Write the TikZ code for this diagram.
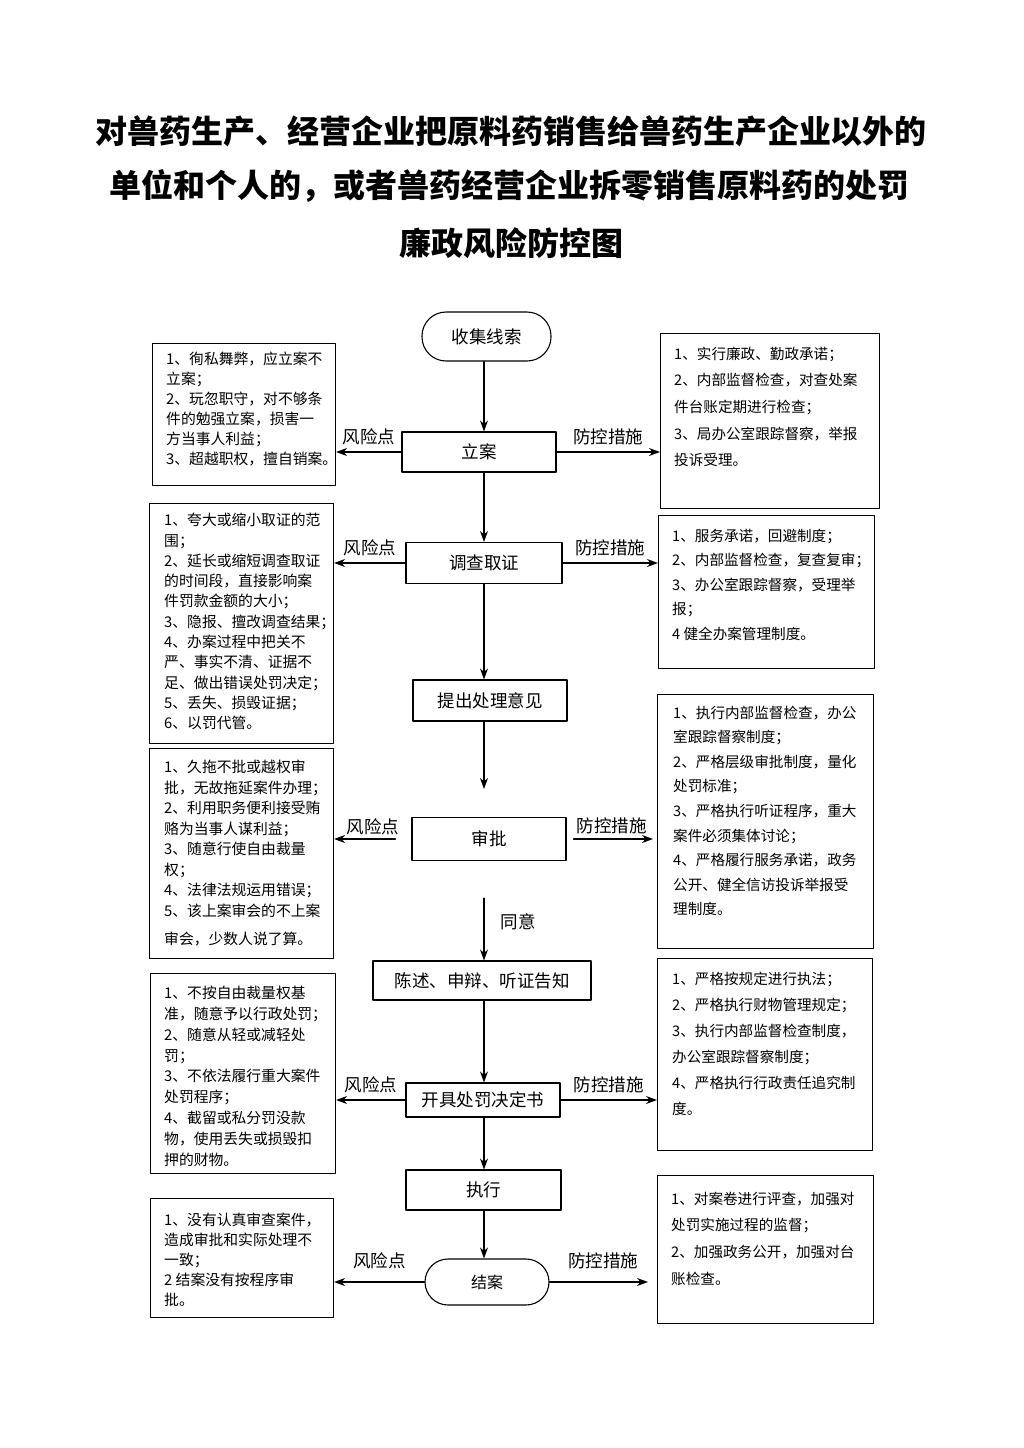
\documentclass[tikz,border=0pt]{standalone}
\usepackage{fontspec}
\setmainfont{Noto Sans CJK SC}
\usetikzlibrary{arrows.meta}
\begin{document}
\begin{tikzpicture}[x=1pt, y=-1pt, line join=round, line cap=round, >={Stealth[length=11pt,width=8pt]}]
	\tikzset{
		box/.style={draw, line width=1.1pt, inner sep=0pt},
		flow/.style={box, font=\fontsize{17.5}{20}\selectfont},
		oval/.style={flow, rounded corners=#1},
		side/.style={box, anchor=north west},
		ltxt/.style={anchor=north west, inner sep=0pt, align=left, font=\fontsize{14.8}{#1}\selectfont},
		rtxt/.style={anchor=north west, inner sep=0pt, align=left, font=\fontsize{14.6}{#1}\selectfont},
		tag/.style={font=\fontsize{17.5}{20}\selectfont, inner sep=0pt},
		title/.style={font=\bfseries\fontsize{32}{36}\selectfont},
		arr/.style={->, line width=1.1pt}
	}
	\useasboundingbox (0,0) rectangle (1024,1448);
	\coordinate (axis) at (484,0);
	% title
	\path (511,131) node[title] (t1) {对兽药生产、经营企业把原料药销售给兽药生产企业以外的}
	(509,186) node[title] (t2) {单位和个人的，或者兽药经营企业拆零销售原料药的处罚}
	(511,243) node[title] (t3) {廉政风险防控图};
	% main column
	\node[oval=24pt, minimum width=129, minimum height=49] (start) at (486.5,336.5) {收集线索};
	\node[flow, minimum width=154, minimum height=40] (lian) at (479,452) {立案};
	\node[flow, minimum width=156, minimum height=41] (diaocha) at (484,563) {调查取证};
	\node[flow, minimum width=154, minimum height=41] (tichu) at (490,700.5) {提出处理意见};
	\node[flow, minimum width=154, minimum height=43] (shenpi) at (489,839) {审批};
	\node[flow, minimum width=218, minimum height=39] (chenshu) at (482,980.5) {陈述、申辩、听证告知};
	\node[flow, minimum width=154, minimum height=34] (kaiju) at (483,1100) {开具处罚决定书};
	\node[flow, minimum width=155, minimum height=40] (zhixing) at (483.5,1190) {执行};
	\node[oval=23pt, minimum width=124, minimum height=46, font=\fontsize{16}{18}\selectfont] (jiean) at (487,1282) {结案};
	% risk boxes (left)
	\node[side, minimum width=183, minimum height=142] (L1) at (152,343) {};
	\node[ltxt=20] (L1t) at ([shift={(14,9)}]L1.north west) {1、徇私舞弊，应立案不\\立案；\\2、玩忽职守，对不够条\\件的勉强立案，损害一\\方当事人利益；\\3、超越职权，擅自销案。};
	\node[side, minimum width=184, minimum height=240] (L2) at (149,503) {};
	\node[ltxt=20.3] (L2t) at ([shift={(15,10)}]L2.north west) {1、夸大或缩小取证的范\\围；\\2、延长或缩短调查取证\\的时间段，直接影响案\\件罚款金额的大小；\\3、隐报、擅改调查结果；\\4、办案过程中把关不\\严、事实不清、证据不\\足、做出错误处罚决定；\\5、丢失、损毁证据；\\6、以罚代管。};
	\node[side, minimum width=184, minimum height=210] (L3) at (149,748) {};
	\node[ltxt=20.5] (L3t) at ([shift={(15,12)}]L3.north west) {1、久拖不批或越权审\\批，无故拖延案件办理；\\2、利用职务便利接受贿\\赂为当事人谋利益；\\3、随意行使自由裁量\\权；\\4、法律法规运用错误；\\5、该上案审会的不上案\\[8pt]审会，少数人说了算。};
	\node[side, minimum width=185, minimum height=200] (L4) at (150,973) {};
	\node[ltxt=20.8] (L4t) at ([shift={(14,13)}]L4.north west) {1、不按自由裁量权基\\准，随意予以行政处罚；\\2、随意从轻或减轻处\\罚；\\3、不依法履行重大案件\\处罚程序；\\4、截留或私分罚没款\\物，使用丢失或损毁扣\\押的财物。};
	\node[side, minimum width=183, minimum height=119] (L5) at (150,1198) {};
	\node[ltxt=20] (L5t) at ([shift={(14,15)}]L5.north west) {1、没有认真审查案件，\\造成审批和实际处理不\\一致；\\2 结案没有按程序审\\批。};
	% control boxes (right)
	\node[side, minimum width=219, minimum height=175] (R1) at (660,333) {};
	\node[rtxt=26.7] (R1t) at ([shift={(14,13.5)}]R1.north west) {1、实行廉政、勤政承诺；\\2、内部监督检查，对查处案\\件台账定期进行检查；\\3、局办公室跟踪督察，举报\\投诉受理。};
	\node[side, minimum width=216, minimum height=153] (R2) at (658,515) {};
	\node[rtxt=24.6] (R2t) at ([shift={(14,13.5)}]R2.north west) {1、服务承诺，回避制度；\\2、内部监督检查，复查复审；\\3、办公室跟踪督察，受理举\\报；\\4 健全办案管理制度。};
	\node[side, minimum width=216, minimum height=254] (R3) at (657,694) {};
	\node[rtxt=24.6] (R3t) at ([shift={(16,11.5)}]R3.north west) {1、执行内部监督检查，办公\\室跟踪督察制度；\\2、严格层级审批制度，量化\\处罚标准；\\3、严格执行听证程序，重大\\案件必须集体讨论；\\4、严格履行服务承诺，政务\\公开、健全信访投诉举报受\\理制度。};
	\node[side, minimum width=215, minimum height=192] (R4) at (657,958) {};
	\node[rtxt=26] (R4t) at ([shift={(15,13.5)}]R4.north west) {1、严格按规定进行执法；\\2、严格执行财物管理规定；\\3、执行内部监督检查制度，\\办公室跟踪督察制度；\\4、严格执行行政责任追究制\\度。};
	\node[side, minimum width=216, minimum height=148] (R5) at (657,1175) {};
	\node[rtxt=26.7] (R5t) at ([shift={(14,16.5)}]R5.north west) {1、对案卷进行评查，加强对\\处罚实施过程的监督；\\2、加强政务公开，加强对台\\账检查。};
	% flow arrows
	\foreach \a/\b in {start/lian, lian/diaocha, diaocha/tichu, chenshu/kaiju, kaiju/zhixing, zhixing/jiean}
		\draw[arr] (\a.south -| axis) -- (\b.north -| axis);
	\draw[arr, shorten >=28pt] (tichu.south -| axis) -- (shenpi.north -| axis);
	\draw[arr, shorten <=37pt] (shenpi.south -| axis) -- (chenshu.north -| axis) node[midway, right=16pt, tag, yshift=-11pt] (ok) {同意};
	% side arrows
	\foreach \m/\n in {lian/1, diaocha/2, kaiju/4}{
		\draw[arr] (\m.west) -- (\m.west -| L\n.east) node[midway, above=7pt, tag] {风险点};
		\draw[arr] (\m.east) -- (\m.east -| R\n.west) node[midway, above=7pt, tag] {防控措施};
	}
	\draw[arr, shorten <=16pt] (shenpi.west) -- (shenpi.west -| L3.east) node[midway, above=4pt, tag] {风险点};
	\draw[arr, shorten <=7pt, shorten >=4pt] (shenpi.east) -- (shenpi.east -| R3.west) node[midway, above=5pt, tag] {防控措施};
	\draw[arr] (jiean.west) -- (jiean.west -| L5.east) node[midway, above=13pt, tag] {风险点};
	\draw[arr, shorten >=9pt] (jiean.east) -- (jiean.east -| R5.west) node[midway, above=13pt, tag] {防控措施};
\end{tikzpicture}
\end{document}
